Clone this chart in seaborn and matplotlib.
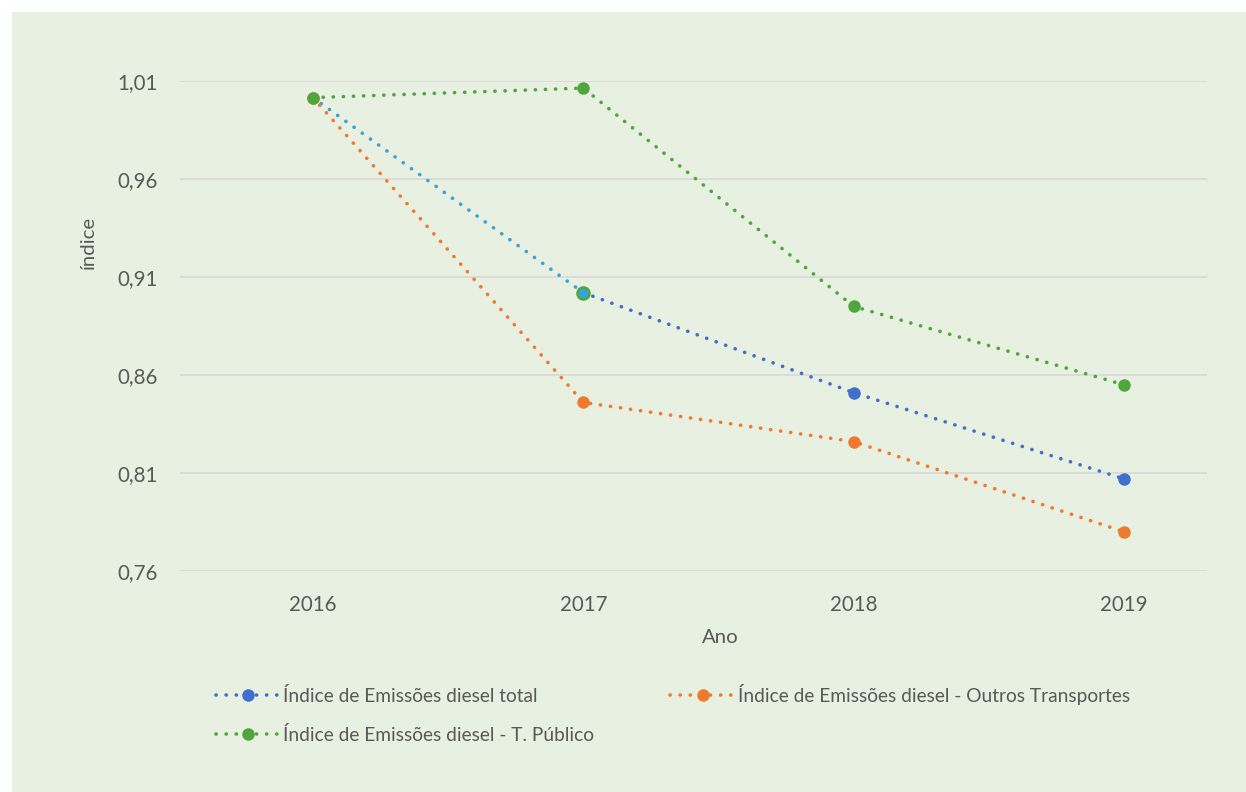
import matplotlib
matplotlib.use("Agg")
import matplotlib.pyplot as plt
import seaborn as sns
import pandas as pd
from matplotlib.ticker import FuncFormatter

# values
years = [2016, 2017, 2018, 2019]
total = [1.0015, 0.902, 0.851, 0.807]
outros = [1.0015, 0.846, 0.826, 0.780]
publico = [1.0015, 1.0064, 0.895, 0.855]

lab_total = "Índice de Emissões diesel total"
lab_outros = "Índice de Emissões diesel - Outros Transportes"
lab_publico = "Índice de Emissões diesel - T. Público"

y_ticks = [0.76, 0.81, 0.86, 0.91, 0.96, 1.01]

bg = "#E8F0E1"
txt = "#595959"
c_blue = "#4070CC"
c_lightblue = "#3AA2DA"
c_orange = "#EE7A30"
c_green = "#4EA63C"

sns.set_style("white")
plt.rcParams["font.family"] = ["Lato", "DejaVu Sans"]

fig = plt.figure(figsize=(12.46, 7.92), dpi=100)
fig.patch.set_facecolor("white")

# green chart area (white strip left and top)
bgax = fig.add_axes([12 / 1246, 0, 1 - 12 / 1246, 1 - 12 / 792], zorder=-1)
bgax.set_facecolor(bg)
bgax.set_xticks([])
bgax.set_yticks([])
for s in bgax.spines.values():
    s.set_visible(False)

ax = fig.add_axes([180 / 1246, 1 - 571 / 792, 1027 / 1246, 490 / 792])
ax.patch.set_alpha(0)

dots = (0, (0.05, 2.75))
lw = 2.6
kw = dict(linewidth=lw, markersize=9, marker="o", markeredgewidth=0,
          dash_capstyle="round")

df_total = pd.DataFrame({"Ano": years, "v": total})
df_outros = pd.DataFrame({"Ano": years, "v": outros})
df_publico = pd.DataFrame({"Ano": years, "v": publico})

# total: first segment in lighter blue as in the original
sns.lineplot(data=df_total.iloc[:2], x="Ano", y="v", ax=ax, color=c_lightblue,
             linestyle=dots, linewidth=lw, dash_capstyle="round")
sns.lineplot(data=df_total.iloc[1:], x="Ano", y="v", ax=ax, color=c_blue,
             linestyle=dots, label=lab_total, **kw)
sns.lineplot(data=df_outros, x="Ano", y="v", ax=ax, color=c_orange,
             linestyle=dots, label=lab_outros, **kw)
sns.lineplot(data=df_publico, x="Ano", y="v", ax=ax, color=c_green,
             linestyle=dots, label=lab_publico, **kw)
sns.scatterplot(data=df_total.iloc[1:2], x="Ano", y="v", ax=ax, s=75,
                color=c_lightblue, edgecolor=c_green, linewidth=1.8, zorder=5)

ax.set_xlim(2015.508, 2019.307)
ax.set_ylim(0.76, 1.01)
ax.set_xticks(years)
ax.set_xticklabels([str(y) for y in years])
ax.set_yticks(y_ticks)
ax.yaxis.set_major_formatter(FuncFormatter(lambda v, p: f"{v:.2f}".replace(".", ",")))
ax.grid(axis="y", color="#D9D9D9", linewidth=1.2)
ax.set_axisbelow(True)
for s in ax.spines.values():
    s.set_visible(False)
ax.tick_params(axis="both", length=0, labelsize=14.8, colors=txt)
ax.tick_params(axis="y", pad=16)
ax.tick_params(axis="x", pad=17)

ax.set_xlabel("Ano", fontsize=14.7, color=txt)
ax.set_ylabel("índice", fontsize=14.7, color=txt)
ax.xaxis.set_label_coords(0.526, -0.118)
ax.yaxis.set_label_coords(-0.081, 0.671)

h, l = ax.get_legend_handles_labels()
order = [l.index(lab_total), l.index(lab_publico), l.index(lab_outros)]
ax.legend([h[i] for i in order], [l[i] for i in order], ncol=2, frameon=False,
          loc="upper left", bbox_to_anchor=(0.018, -0.195), fontsize=13.8,
          labelcolor=txt, handlelength=3.4, columnspacing=4.0,
          handletextpad=0.1, labelspacing=1.1)

fig.savefig("out.png", dpi=100, facecolor="white")
